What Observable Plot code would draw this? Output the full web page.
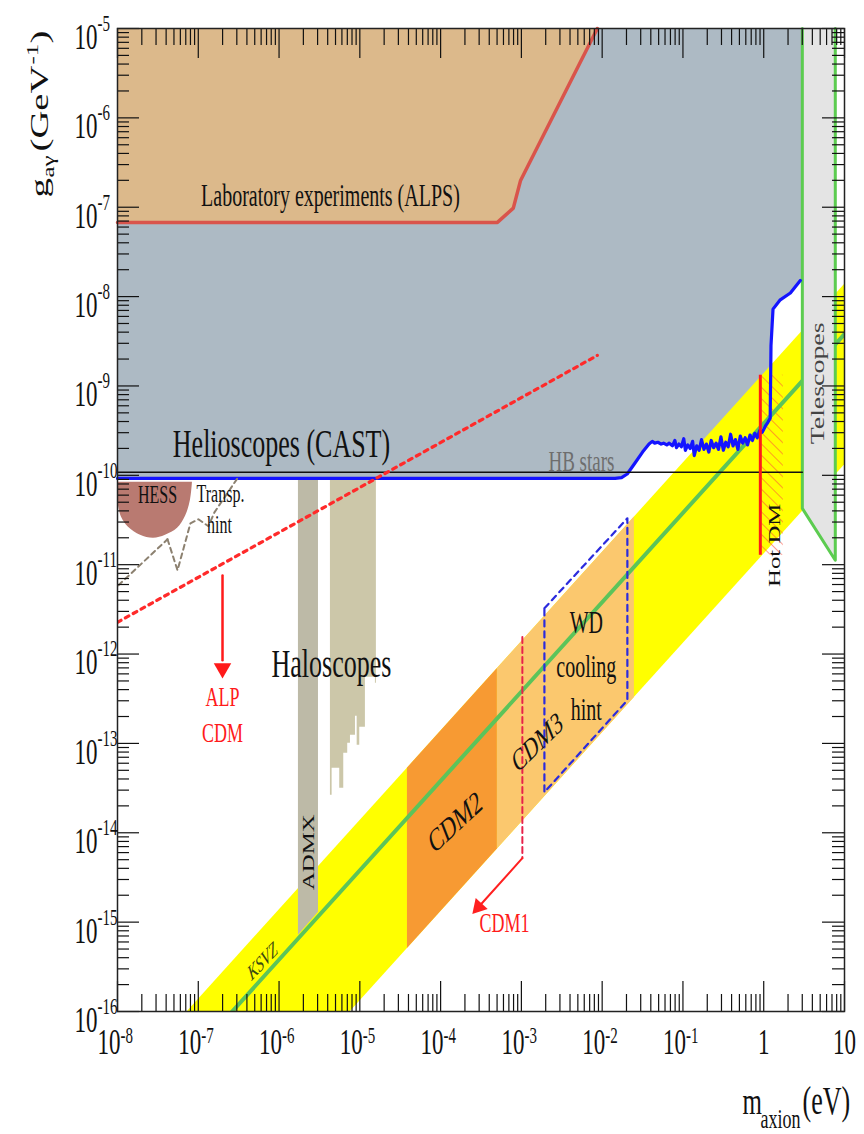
<!DOCTYPE html>
<html><head><meta charset="utf-8">
<script src="https://cdn.jsdelivr.net/npm/d3@7"></script>
<script src="https://cdn.jsdelivr.net/npm/@observablehq/plot@0.6"></script>
<style>body{margin:0;background:#fff}#chart svg{display:block}</style>
</head><body><div id="chart"></div>
<script>
// All values are log10(m_axion / eV), log10(g / GeV^-1)
const xMajorExps = [-8,-7,-6,-5,-4,-3,-2,-1,0,1];
const yMajorExps = [-16,-15,-14,-13,-12,-11,-10,-9,-8,-7,-6,-5];

const castLimit = [[-8.00,-10.035],[-1.84,-10.035],[-1.76,-10.025],[-1.69,-9.985],[-1.60,-9.87],[-1.50,-9.74],[-1.42,-9.65],[-1.38,-9.62],
 [-1.35,-9.64],[-1.31,-9.63],[-1.27,-9.65],[-1.24,-9.64],[-1.20,-9.66],[-1.17,-9.64],[-1.13,-9.67],[-1.10,-9.61],[-1.08,-9.69],[-1.05,-9.65],
 [-1.02,-9.68],[-0.99,-9.59],[-0.97,-9.72],[-0.94,-9.66],[-0.91,-9.70],[-0.88,-9.62],[-0.86,-9.78],[-0.83,-9.67],[-0.80,-9.72],[-0.77,-9.60],
 [-0.74,-9.71],[-0.71,-9.65],[-0.68,-9.74],[-0.65,-9.61],[-0.62,-9.69],[-0.59,-9.64],[-0.56,-9.71],[-0.53,-9.57],[-0.50,-9.72],[-0.47,-9.63],
 [-0.44,-9.68],[-0.41,-9.54],[-0.38,-9.67],[-0.35,-9.60],[-0.32,-9.71],[-0.29,-9.56],[-0.26,-9.64],[-0.23,-9.58],[-0.20,-9.66],[-0.17,-9.55],
 [-0.14,-9.61],[-0.11,-9.53],[-0.08,-9.58],[-0.05,-9.50],[-0.02,-9.52],[0.02,-9.45],[0.05,-9.41],[0.08,-9.36],[0.09,-8.55],[0.115,-8.14],
 [0.20,-8.04],[0.33,-7.96],[0.453,-7.82]];
const heliFillEnd = [[0.478,-7.80]];
const labLimit = [[-8,-7.17],[-3.297,-7.17],[-3.10,-7.01],[-3.01,-6.70],[-2.06,-5.0]];
const hbStars = [[-8,-9.965],[0.478,-9.965]];
const telescopeLower = [[0.478,-10.37],[0.886,-10.95]];
const telescopeEdge = [[0.478,-5],[0.478,-10.37],[0.886,-10.95],[0.886,-5]];
// [logm, lower, upper]
const yellowBand = [[-8,-18.884,-16.866],[1,-9.884,-7.866]];
const cdm2Band = [[-4.411,-15.295,-13.277],[-3.297,-14.181,-12.163]];
const cdm3Band = [[-3.297,-14.181,-12.163],[-1.601,-12.485,-10.467]];
const ksvzLine = [[-8,-17.42],[1,-8.42]];
const admxBar = [[-5.76,-15.146],[-5.512,-14.888]];
const haloBar = [[-5.364,-13.579],[-5.343,-13.277],[-5.249,-13.501],[-5.199,-13.11],[-5.15,-12.998],[-5.116,-12.908],
 [-5.054,-12.696],[-5.033,-13.02],[-5.001,-12.819],[-4.931,-12.26],[-4.807,-12.327],[-4.795,-12.327]];
const haloTop = -10.035;
const hessShape = [[-7.99,-10.33],[-7.95,-10.47],[-7.864,-10.582],[-7.715,-10.671],[-7.554,-10.705],[-7.406,-10.671],
 [-7.257,-10.593],[-7.158,-10.459],[-7.097,-10.28],[-7.072,-10.078]];
const hessTop = -10.078;
const transpA = [[-7.988,-11.23],[-7.381,-10.716]];
const transpB = [[-7.381,-10.716],[-7.257,-11.063],[-7.097,-10.537],[-6.998,-10.492],[-6.874,-10.57],[-6.8,-10.414],[-6.515,-10.034]];
const alpCdmLine = [[-8,-11.644],[-2.06,-8.658]];
const alpArrow = [[-6.7,-11.12],[-6.7,-12.07]];
const alpHead = [[-6.7,-12.16]];
const wdHint = [[-2.715,-11.488],[-1.688,-10.481],[-1.688,-12.517],[-2.715,-13.546],[-2.715,-11.488]];
const cdm1Dashed = [[-2.988,-11.81],[-2.988,-14.284]];
const cdm1Arrow = [[-2.988,-14.284],[-3.50,-14.80]];
const cdm1Head = [[-3.53,-14.83]];
const hotDm = [{m0:-0.042, m1:0.243, g0:-10.895, g1:-8.88}];

// labels [text, logm, logg]
const bigLabels = [["Helioscopes (CAST)",-5.97,-9.653],["Haloscopes",-5.351,-12.114]];
const midLabels = [["Laboratory experiments (ALPS)",-5.364,-6.879],["WD",-2.196,-11.655],["cooling",-2.196,-12.148],["hint",-2.196,-12.629]];
const smallLabels = [["HESS",-7.505,-10.224],["Transp.",-6.725,-10.215],["hint",-6.738,-10.56]];
const hbLabel = [["HB stars",-2.257,-9.843]];
const redLabels = [["ALP",-6.7,-12.483],["CDM",-6.7,-12.886],["CDM1",-3.21,-15.011]];
const cdm2Label = [["CDM2",-3.817,-13.881]];
const cdm3Label = [["CDM3",-2.802,-12.987]];
const ksvzLabel = [["KSVZ",-6.205,-15.436]];
const admxLabel = [["ADMX",-5.636,-14.217]];
const hotDmLabel = [["Hot DM",0.144,-10.783]];
const telLabel = [["Telescopes",0.676,-8.971]];

const STRETCH = 1.55;
const FONT = "'Liberation Serif','Times New Roman',serif";
const W = 864, H = 1134, ML = 117, MR = 20, MT = 28, MB = 123;
const innerW = W - ML - MR, innerH = H - MT - MB;

const X = d => 10 ** d[0], Y = d => 10 ** d[1];
const xMajor = xMajorExps.map(e => 10 ** e);
const yMajor = yMajorExps.map(e => 10 ** e);
const xMinor = d3.range(-8, 1).flatMap(e => d3.range(2, 10).map(k => k * 10 ** e));
const yMinor = d3.range(-16, -5).flatMap(e => d3.range(2, 10).map(k => k * 10 ** e));

const X1 = d => 10 ** d[1], Y2 = d => 10 ** d[2];
const T = (data, o) => Plot.text(data, {x: X1, y: Y2, text: d => d[0], fill: "#111", ...o});

const chart = Plot.plot({
  width: W, height: H,
  marginLeft: ML, marginRight: MR, marginTop: MT, marginBottom: MB,
  style: {fontFamily: FONT, background: "#fff"},
  x: {type: "log", domain: [1e-8, 10], axis: null},
  y: {type: "log", domain: [1e-16, 1e-5], axis: null},
  marks: [
    Plot.areaY([...castLimit, ...heliFillEnd], {x: X, y1: Y, y2: 1e-5, fill: "#adbac4"}),
    Plot.areaY(labLimit, {x: X, y1: Y, y2: 1e-5, fill: "#dcb98b"}),
    Plot.line(labLimit, {x: X, y: Y, stroke: "#d9544b", strokeWidth: 3.5}),
    Plot.areaY(yellowBand, {x: X, y1: d => 10 ** d[1], y2: d => 10 ** d[2], fill: "#ffff00", clip: true}),
    Plot.areaY(cdm2Band, {x: X, y1: d => 10 ** d[1], y2: d => 10 ** d[2], fill: "#f79a33"}),
    Plot.areaY(cdm3Band, {x: X, y1: d => 10 ** d[1], y2: d => 10 ** d[2], fill: "#fbc86e"}),
    Plot.rect(hotDm, {x1: d => 10 ** d.m0, x2: d => 10 ** d.m1, y1: d => 10 ** d.g0, y2: d => 10 ** d.g1, fill: "url(#hotdm-hatch)"}),
    Plot.areaY(admxBar, {x: X, y1: Y, y2: 10 ** haloTop, fill: "#bdbaa7"}),
    Plot.areaY(haloBar, {x: X, y1: Y, y2: 10 ** haloTop, fill: "#ccc7a9", curve: "step-after"}),
    Plot.areaY(hessShape, {x: X, y1: Y, y2: 10 ** hessTop, fill: "#b97a71", curve: "catmull-rom"}),
    Plot.line(ksvzLine, {x: X, y: Y, stroke: "#5cc45a", strokeWidth: 4, clip: true}),
    Plot.areaY(telescopeLower, {x: X, y1: Y, y2: 1e-5, fill: "#e4e4e4"}),
    Plot.line(telescopeEdge, {x: X, y: Y, stroke: "#5ccc50", strokeWidth: 3}),
    Plot.line(castLimit, {x: X, y: Y, stroke: "#1414ff", strokeWidth: 3.2}),
    Plot.line(hbStars, {x: X, y: Y, stroke: "#111", strokeWidth: 1.6}),
    Plot.ruleX(hotDm, {x: d => 10 ** d.m0, y1: d => 10 ** d.g0, y2: d => 10 ** d.g1, stroke: "#ff1a1a", strokeWidth: 3}),
    Plot.line(wdHint, {x: X, y: Y, stroke: "#2b2bdd", strokeWidth: 2.2, strokeDasharray: "6,5"}),
    Plot.line(cdm1Dashed, {x: X, y: Y, stroke: "#e8224a", strokeWidth: 2, strokeDasharray: "6,4"}),
    Plot.line(cdm1Arrow, {x: X, y: Y, stroke: "#ff2020", strokeWidth: 2}),
    Plot.dot(cdm1Head, {x: X, y: Y, symbol: "triangle", r: 6, fill: "#ff2020", rotate: 222}),
    Plot.line(alpCdmLine, {x: X, y: Y, stroke: "#ff2a2a", strokeWidth: 3.2, strokeDasharray: "4,5", clip: true}),
    Plot.line(alpArrow, {x: X, y: Y, stroke: "#ff1a1a", strokeWidth: 2.5}),
    Plot.dot(alpHead, {x: X, y: Y, symbol: "triangle", r: 6.5, fill: "#ff1a1a", rotate: 180}),
    Plot.line(transpA, {x: X, y: Y, stroke: "#8c8170", strokeWidth: 2, strokeDasharray: "5,4"}),
    Plot.line(transpB, {x: X, y: Y, stroke: "#8c8170", strokeWidth: 2, strokeDasharray: "5,4"}),

    T(bigLabels, {fontSize: 26}),
    T(midLabels, {fontSize: 20}),
    T(smallLabels, {fontSize: 16}),
    T(hbLabel, {fontSize: 19, fill: "#6e6e6e"}),
    T(redLabels, {fontSize: 18, fill: "#ff1a1a"}),
    T(cdm2Label, {fontSize: 21, rotate: -31}),
    T(cdm3Label, {fontSize: 20, rotate: -32}),
    T(ksvzLabel, {fontSize: 14, rotate: -34, fontStyle: "italic", fill: "#3a4a10"}),
    T(admxLabel, {fontSize: 16, rotate: -90}),
    T(hotDmLabel, {fontSize: 16, rotate: -90}),
    T(telLabel, {fontSize: 18, rotate: -90, fill: "#444"}),

    // ticks (inward on all four sides)
    Plot.tickX(xMajor, {x: d => d, insetTop: innerH - 30, stroke: "#111", strokeWidth: 1.2}),
    Plot.tickX(xMinor, {x: d => d, insetTop: innerH - 17, stroke: "#111", strokeWidth: 1.2}),
    Plot.tickX(xMajor, {x: d => d, insetBottom: innerH - 30, stroke: "#111", strokeWidth: 1.2}),
    Plot.tickX(xMinor, {x: d => d, insetBottom: innerH - 17, stroke: "#111", strokeWidth: 1.2}),
    Plot.tickY(yMajor, {y: d => d, insetRight: innerW - 22, stroke: "#111", strokeWidth: 1.2}),
    Plot.tickY(yMinor, {y: d => d, insetRight: innerW - 12, stroke: "#111", strokeWidth: 1.2}),
    Plot.tickY(yMajor, {y: d => d, insetLeft: innerW - 22, stroke: "#111", strokeWidth: 1.2}),
    Plot.tickY(yMinor, {y: d => d, insetLeft: innerW - 12, stroke: "#111", strokeWidth: 1.2}),
    Plot.frame({stroke: "#222", strokeWidth: 1.5}),

    // x tick labels
    Plot.text(xMajorExps.filter(e => e < 0), {x: e => 10 ** e, frameAnchor: "bottom", text: () => "10", textAnchor: "end", dx: 3, dy: 42, fontSize: 23, fill: "#111"}),
    Plot.text(xMajorExps.filter(e => e < 0), {x: e => 10 ** e, frameAnchor: "bottom", text: e => String(e), textAnchor: "start", dx: 3, dy: 31, fontSize: 15, fill: "#111"}),
    Plot.text(xMajorExps.filter(e => e >= 0), {x: e => 10 ** e, frameAnchor: "bottom", text: e => e === 0 ? "1" : "10", textAnchor: "middle", dy: 42, fontSize: 23, fill: "#111"}),
    // y tick labels
    Plot.text(yMajorExps, {y: e => 10 ** e, frameAnchor: "left", text: () => "10", textAnchor: "end", dx: -20, dy: 9, fontSize: 23, fill: "#111"}),
    Plot.text(yMajorExps, {y: e => 10 ** e, frameAnchor: "left", text: e => String(e), textAnchor: "start", dx: -20, dy: -5, fontSize: 15, fill: "#111"}),

    // y axis label
    Plot.text(["g"], {frameAnchor: "top-left", text: d => d, rotate: -90, textAnchor: "start", lineAnchor: "bottom", dx: -70, dy: 169, fontSize: 25, fill: "#111"}),
    Plot.text(["aγ"], {frameAnchor: "top-left", text: d => d, rotate: -90, textAnchor: "start", lineAnchor: "bottom", dx: -64, dy: 149, fontSize: 16, fill: "#111"}),
    Plot.text(["(GeV"], {frameAnchor: "top-left", text: d => d, rotate: -90, textAnchor: "start", lineAnchor: "bottom", dx: -70, dy: 123, fontSize: 25, fill: "#111"}),
    Plot.text(["-1"], {frameAnchor: "top-left", text: d => d, rotate: -90, textAnchor: "start", lineAnchor: "bottom", dx: -80, dy: 36, fontSize: 16, fill: "#111"}),
    Plot.text([")"], {frameAnchor: "top-left", text: d => d, rotate: -90, textAnchor: "start", lineAnchor: "bottom", dx: -70, dy: 15, fontSize: 25, fill: "#111"}),
    // x axis label
    Plot.text(["m"], {frameAnchor: "top-left", text: d => d, textAnchor: "start", lineAnchor: "bottom", dx: 625, dy: 1085, fontSize: 25, fill: "#111"}),
    Plot.text(["axion"], {frameAnchor: "top-left", text: d => d, textAnchor: "start", lineAnchor: "bottom", dx: 643, dy: 1099, fontSize: 18, fill: "#111"}),
    Plot.text(["(eV)"], {frameAnchor: "top-left", text: d => d, textAnchor: "start", lineAnchor: "bottom", dx: 685, dy: 1085, fontSize: 26, fill: "#111"})
  ]
});

// hatch pattern for the Hot DM region
const defs = document.createElementNS("http://www.w3.org/2000/svg", "defs");
defs.innerHTML = '<pattern id="hotdm-hatch" width="8" height="8" patternUnits="userSpaceOnUse" patternTransform="rotate(-45)"><line x1="0" y1="0" x2="0" y2="8" stroke="#ff4a3a" stroke-width="1.1"/></pattern>';
chart.insertBefore(defs, chart.firstChild);

// the reference figure is vertically stretched: stretch every text glyph the same way
chart.querySelectorAll("text").forEach(t => {
  const tr = t.getAttribute("transform");
  if (tr) t.setAttribute("transform", tr.replace(/^(translate\([^)]*\))/, `$1 scale(1,${STRETCH})`));
});

document.getElementById("chart").appendChild(chart);
</script>
</body></html>
